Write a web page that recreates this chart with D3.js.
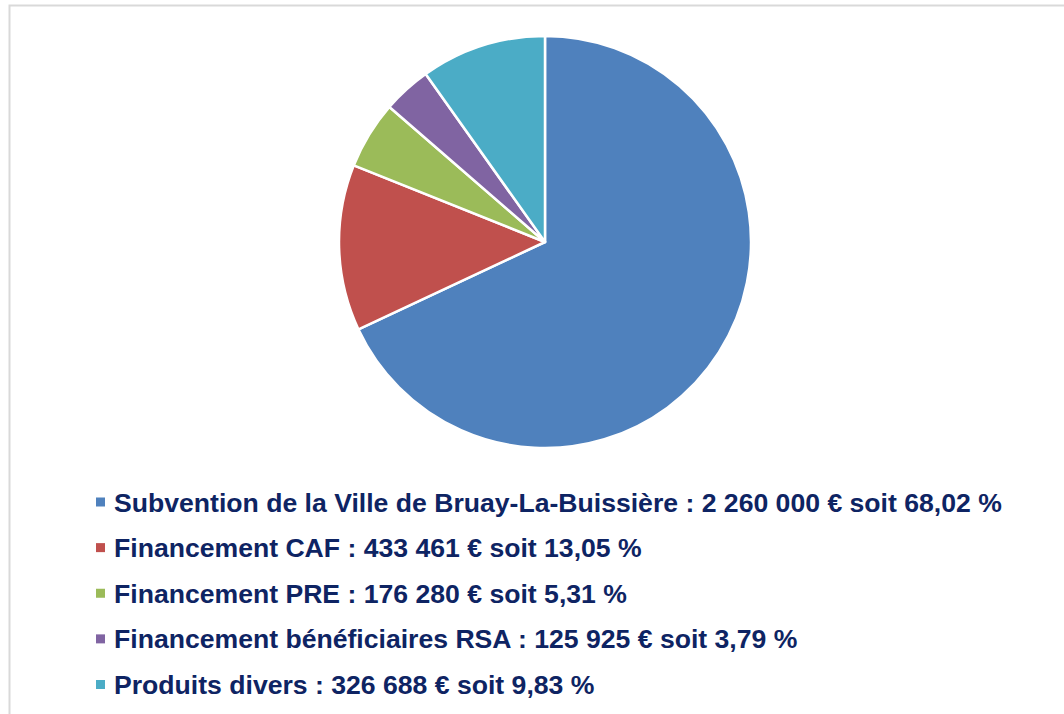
<!DOCTYPE html>
<html><head><meta charset="utf-8">
<script src="https://cdn.jsdelivr.net/npm/d3@7"></script>
<style>body{margin:0;background:#fff;}</style>
</head><body>
<svg id="c" width="1064" height="714"></svg>
<script>
const categories = [
  "Subvention de la Ville de Bruay-La-Buissière : 2 260 000 € soit 68,02 %",
  "Financement CAF : 433 461 € soit 13,05 %",
  "Financement PRE : 176 280 € soit 5,31 %",
  "Financement bénéficiaires RSA : 125 925 € soit 3,79 %",
  "Produits divers : 326 688 € soit 9,83 %"
];
const values = [2260000, 433461, 176280, 125925, 326688];
const colors = ["#4F81BD", "#C0504D", "#9BBB59", "#8064A2", "#4BACC6"];

const svg = d3.select("#c");
svg.append("rect").attr("x",9.5).attr("y",5.5).attr("width",1070).attr("height",720)
  .attr("fill","none").attr("stroke","#d9d9d9").attr("stroke-width",2);

const data = categories.map((c,i)=>({label:c, value:values[i], color:colors[i]}));
const pie = d3.pie().value(d=>d.value).sort(null);
const arc = d3.arc().innerRadius(0).outerRadius(206);
const g = svg.append("g").attr("transform","translate(545,242)");
g.selectAll("path").data(pie(data)).join("path")
  .attr("d",arc).attr("fill",d=>d.data.color)
  .attr("stroke","#fff").attr("stroke-width",2.5).attr("stroke-linejoin","round");

const y = d3.scalePoint().domain(d3.range(categories.length)).range([502,684.5]);
const lg = svg.append("g");
const items = lg.selectAll("g").data(data).join("g")
  .attr("transform",(d,i)=>`translate(0,${y(i)})`);
items.append("rect").attr("x",96).attr("y",-4.5).attr("width",9).attr("height",9).attr("fill",d=>d.color);
items.append("text").attr("x",114).attr("y",0).attr("dy","0.36em")
  .style("font-family","'Liberation Sans', Arial, sans-serif").attr("font-weight","bold")
  .attr("font-size",26.6).attr("fill","#0E2463").text(d=>d.label);
</script>
</body></html>
